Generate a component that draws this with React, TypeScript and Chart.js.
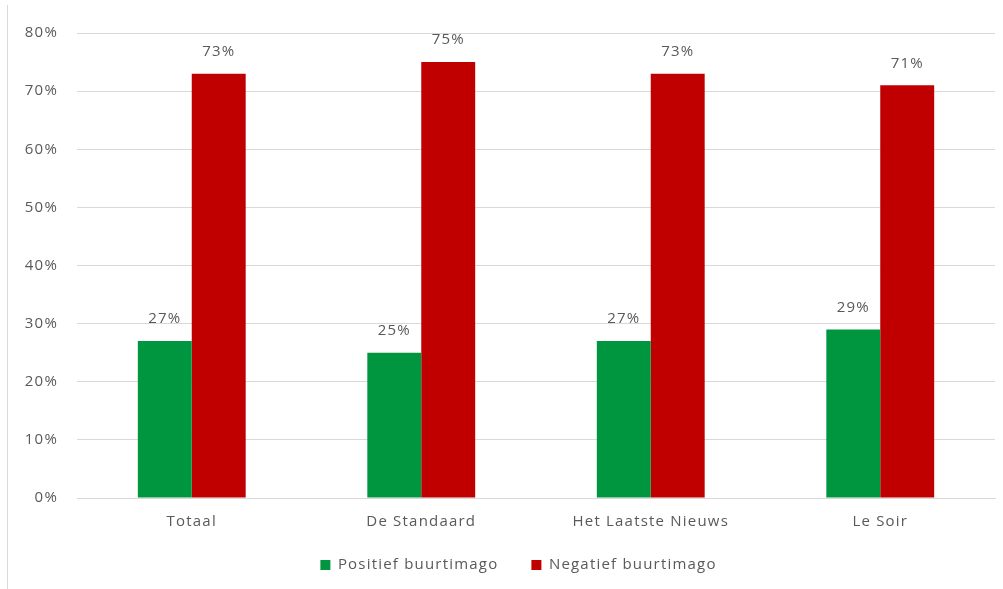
import React, { useEffect, useRef } from "react";
import { Chart, registerables } from "chart.js";

Chart.register(...registerables);

const categories = ["Totaal", "De Standaard", "Het Laatste Nieuws", "Le Soir"];
const positief = [27, 25, 27, 29];
const negatief = [73, 75, 73, 71];
const seriesNames = ["Positief buurtimago", "Negatief buurtimago"];
const yTicks = [0, 10, 20, 30, 40, 50, 60, 70, 80];

const FONT = "'Open Sans', 'Noto Sans', sans-serif";
const TEXT = "#595959";
const SPACING = "1.2px";

const spacingPlugin = {
  id: "spacing",
  beforeUpdate(chart: any) {
    chart.ctx.letterSpacing = SPACING;
  },
  afterLayout(chart: any) {
    const lg = chart.legend;
    if (lg) {
      lg.left += 21;
      lg.right += 21;
      lg.top -= 13.5;
      lg.bottom -= 13.5;
    }
  },
  beforeDraw(chart: any) {
    chart.ctx.letterSpacing = SPACING;
  },
};

const labelPlugin = {
  id: "valueLabels",
  afterDatasetsDraw(chart: any) {
    const ctx = chart.ctx;
    ctx.save();
    ctx.letterSpacing = SPACING;
    ctx.fillStyle = TEXT;
    ctx.font = `15px ${FONT}`;
    ctx.textAlign = "center";
    ctx.textBaseline = "middle";
    chart.data.datasets.forEach((ds: any, i: number) => {
      const meta = chart.getDatasetMeta(i);
      meta.data.forEach((bar: any, j: number) => {
        ctx.fillText(`${ds.data[j]}%`, bar.x, bar.y - 22);
      });
    });
    ctx.restore();
  },
};

export default function App() {
  const ref = useRef<HTMLCanvasElement>(null);
  useEffect(() => {
    if (!ref.current) return;
    const chart = new Chart(ref.current, {
      type: "bar",
      data: {
        labels: categories,
        datasets: [
          { label: seriesNames[0], data: positief, backgroundColor: "#009640" },
          { label: seriesNames[1], data: negatief, backgroundColor: "#C00000" },
        ],
      },
      options: {
        animation: false,
        responsive: false,
        maintainAspectRatio: false,
        layout: { padding: { top: 33, right: 8, bottom: -7, left: 0 } },
        datasets: { bar: { categoryPercentage: 0.47, barPercentage: 1 } },
        scales: {
          x: {
            afterFit: (s: any) => { s.height = 40; },
            grid: { display: false, drawTicks: false },
            border: { color: "#d9d9d9", width: 1 },
            ticks: { color: TEXT, font: { family: FONT, size: 15 }, padding: 15 },
          },
          y: {
            min: 0,
            max: 80,
            afterFit: (s: any) => { s.width = 77; },
            afterBuildTicks: (s: any) => { s.ticks = yTicks.map((v) => ({ value: v })); },
            border: { display: false },
            grid: { color: "#d9d9d9", drawTicks: false },
            ticks: {
              color: TEXT,
              font: { family: FONT, size: 15 },
              padding: 19,
              callback: (v: any) => `${v}%`,
            },
          },
        },
        plugins: {
          legend: {
            position: "bottom",
            labels: {
              boxWidth: 10,
              boxHeight: 10,
              color: TEXT,
              font: { family: FONT, size: 15 },
              padding: 33,
            },
          },
          tooltip: { enabled: false },
        },
      },
      plugins: [spacingPlugin, labelPlugin],
    });
    return () => chart.destroy();
  }, []);
  return (
    <div style={{ position: "absolute", left: 0, top: 0, width: 1003, height: 589, background: "#fff" }}>
      <div style={{ position: "absolute", left: 7, top: 5, width: 0, height: 584, borderLeft: "1px solid #d9d9d9" }} />
      <canvas ref={ref} width={1003} height={589} style={{ position: "absolute", left: 0, top: 0, width: 1003, height: 589 }} />
    </div>
  );
}
